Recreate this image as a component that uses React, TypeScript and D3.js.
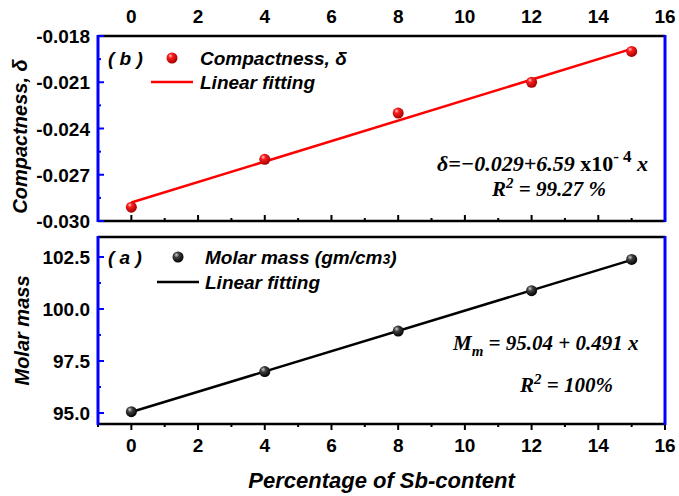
import * as d3 from 'd3';

// Sb content (%) for each sample
const sbContent = [0, 4, 8, 12, 15];
// panel (b): compactness δ
const compactness = [-0.0291, -0.026, -0.023, -0.021, -0.019];
// panel (a): molar mass
const molarMass = [95.06, 96.99, 98.94, 100.88, 102.38];

const xTicks = [0, 2, 4, 6, 8, 10, 12, 14, 16];
const xMinor = [-1, 1, 3, 5, 7, 9, 11, 13, 15];
const compTicks = [-0.03, -0.027, -0.024, -0.021, -0.018];
const compMinor = [-0.0285, -0.0255, -0.0225, -0.0195];
const massTicks = [95, 97.5, 100, 102.5];
const massMinor = [96.25, 98.75, 101.25];

const W = 679;
const H = 496;
const L = 98;
const R = 665;
const top1 = 36, bot1 = 221;
const top2 = 237, bot2 = 424;

const sans = 'Arial, "Liberation Sans", sans-serif';
const serif = '"Times New Roman", "Liberation Serif", serif';
const BLUE = '#0000ff';

function linfit(xs: number[], ys: number[]) {
  const mx = d3.mean(xs)!;
  const my = d3.mean(ys)!;
  let sxy = 0, sxx = 0;
  xs.forEach((x, i) => {
    sxy += (x - mx) * (ys[i] - my);
    sxx += (x - mx) * (x - mx);
  });
  const b = sxy / sxx;
  return { a: my - b * mx, b };
}

const Sphere = ({ cx, cy, grad }: { cx: number; cy: number; grad: string }) => (
  <circle cx={cx} cy={cy} r={5.5} fill={`url(#${grad})`} />
);

export default function App() {
  const x = d3.scaleLinear().domain([-1, 16]).range([L, R]);
  const yC = d3.scaleLinear().domain([-0.03, -0.018]).range([bot1, top1]);
  const yM = d3.scaleLinear().domain([94.47, 103.46]).range([bot2, top2]);

  const fitC = linfit(sbContent, compactness);
  const fitM = linfit(sbContent, molarMass);
  const xEnds = [d3.min(sbContent)!, d3.max(sbContent)!];

  const lineC = d3.line<number>().x((d) => x(d)).y((d) => yC(fitC.a + fitC.b * d));
  const lineM = d3.line<number>().x((d) => x(d)).y((d) => yM(fitM.a + fitM.b * d));

  const fmtC = d3.format('.3f');
  const fmtM = d3.format('.1f');

  return (
    <svg width={W} height={H} style={{ position: 'absolute', left: 0, top: 0, background: '#fff' }}>
      <defs>
        <radialGradient id="gRed" cx="0.4" cy="0.35" r="0.65" fx="0.35" fy="0.3">
          <stop offset="0" stopColor="#ffd0d0" />
          <stop offset="0.3" stopColor="#ff2020" />
          <stop offset="1" stopColor="#a00000" />
        </radialGradient>
        <radialGradient id="gBlack" cx="0.4" cy="0.35" r="0.65" fx="0.35" fy="0.3">
          <stop offset="0" stopColor="#d0d0d0" />
          <stop offset="0.35" stopColor="#404040" />
          <stop offset="1" stopColor="#000" />
        </radialGradient>
      </defs>

      {/* ---------- top panel (b) ---------- */}
      <line x1={L} x2={R} y1={top1} y2={top1} stroke="#000" strokeWidth={2.5} />
      <line x1={L} x2={R} y1={bot1} y2={bot1} stroke="#000" strokeWidth={2.5} />
      {xTicks.map((t) => (
        <g key={'tb' + t}>
          <line x1={x(t)} x2={x(t)} y1={bot1} y2={bot1 - 6} stroke="#000" strokeWidth={2} />
          <text x={x(t)} y={23} textAnchor="middle" fontFamily={sans} fontWeight="bold" fontSize={19}>
            {t}
          </text>
        </g>
      ))}
      {xMinor.map((t) => (
        <line key={'mb' + t} x1={x(t)} x2={x(t)} y1={bot1} y2={bot1 - 3} stroke="#000" strokeWidth={2} />
      ))}
      {compTicks.map((t) => (
        <g key={'yc' + t}>
          <line x1={L} x2={L + 6} y1={yC(t)} y2={yC(t)} stroke={BLUE} strokeWidth={2} />
          <text x={90} y={yC(t) + 7} textAnchor="end" fontFamily={sans} fontWeight="bold" fontSize={19}>
            {fmtC(t).replace('−', '-')}
          </text>
        </g>
      ))}
      {compMinor.map((t) => (
        <line key={'mc' + t} x1={L} x2={L + 3} y1={yC(t)} y2={yC(t)} stroke={BLUE} strokeWidth={2} />
      ))}
      <line x1={L} x2={L} y1={top1 - 1} y2={bot1 + 1} stroke={BLUE} strokeWidth={3} />
      <line x1={R} x2={R} y1={top1 - 1} y2={bot1 + 1} stroke={BLUE} strokeWidth={3} />

      <path d={lineC(xEnds) ?? ''} fill="none" stroke="#ff0000" strokeWidth={2.5} />
      {sbContent.map((s, i) => (
        <Sphere key={'pc' + s} cx={x(s)} cy={yC(compactness[i])} grad="gRed" />
      ))}

      {/* legend (b) */}
      <text x={108} y={65} fontFamily={sans} fontWeight="bold" fontStyle="italic" fontSize={19}>( b )</text>
      <Sphere cx={172} cy={58} grad="gRed" />
      <text x={200} y={65} fontFamily={sans} fontWeight="bold" fontStyle="italic" fontSize={19}>
        Compactness, δ
      </text>
      <line x1={151} x2={193} y1={82} y2={82} stroke="#ff0000" strokeWidth={2.5} />
      <text x={200} y={89} fontFamily={sans} fontWeight="bold" fontStyle="italic" fontSize={19}>
        Linear fitting
      </text>

      <text x={437} y={171} fontFamily={serif} fontWeight="bold" fontStyle="italic" fontSize={22}>
        δ=−0.029+6.59 <tspan fontStyle="normal">x10</tspan>
        <tspan dy={-9} fontSize={17} fontStyle="normal">- 4</tspan>
        <tspan dy={9}> x</tspan>
      </text>
      <text x={492} y={196} fontFamily={serif} fontWeight="bold" fontStyle="italic" fontSize={21}>
        R<tspan dy={-8} fontSize={15}>2</tspan>
        <tspan dy={8}> = 99.27 %</tspan>
      </text>

      {/* ---------- bottom panel (a) ---------- */}
      <line x1={L} x2={R} y1={top2} y2={top2} stroke="#000" strokeWidth={2.5} />
      <line x1={L} x2={R} y1={bot2} y2={bot2} stroke="#000" strokeWidth={2.5} />
      {xTicks.map((t) => (
        <g key={'ta' + t}>
          <line x1={x(t)} x2={x(t)} y1={bot2} y2={bot2 + 6} stroke="#000" strokeWidth={2} />
          <text x={x(t)} y={452} textAnchor="middle" fontFamily={sans} fontWeight="bold" fontSize={19}>
            {t}
          </text>
        </g>
      ))}
      {xMinor.map((t) => (
        <line key={'ma' + t} x1={x(t)} x2={x(t)} y1={bot2} y2={bot2 + 3} stroke="#000" strokeWidth={2} />
      ))}
      {massTicks.map((t) => (
        <g key={'ym' + t}>
          <line x1={L} x2={L + 6} y1={yM(t)} y2={yM(t)} stroke={BLUE} strokeWidth={2} />
          <text x={90} y={yM(t) + 7} textAnchor="end" fontFamily={sans} fontWeight="bold" fontSize={19}>
            {fmtM(t)}
          </text>
        </g>
      ))}
      {massMinor.map((t) => (
        <line key={'mm' + t} x1={L} x2={L + 3} y1={yM(t)} y2={yM(t)} stroke={BLUE} strokeWidth={2} />
      ))}
      <line x1={L} x2={L} y1={top2 - 1} y2={bot2 + 1} stroke={BLUE} strokeWidth={3} />
      <line x1={R} x2={R} y1={top2 - 1} y2={bot2 + 1} stroke={BLUE} strokeWidth={3} />

      <path d={lineM(xEnds) ?? ''} fill="none" stroke="#000" strokeWidth={2.5} />
      {sbContent.map((s, i) => (
        <Sphere key={'pm' + s} cx={x(s)} cy={yM(molarMass[i])} grad="gBlack" />
      ))}

      {/* legend (a) */}
      <text x={108} y={264} fontFamily={sans} fontWeight="bold" fontStyle="italic" fontSize={19}>( a )</text>
      <Sphere cx={178} cy={257} grad="gBlack" />
      <text x={205} y={264} fontFamily={sans} fontWeight="bold" fontStyle="italic" fontSize={19}>
        Molar mass (gm/cm<tspan fontSize={14}>3</tspan>)
      </text>
      <line x1={157} x2={199} y1={282} y2={282} stroke="#000" strokeWidth={2.5} />
      <text x={205} y={289} fontFamily={sans} fontWeight="bold" fontStyle="italic" fontSize={19}>
        Linear fitting
      </text>

      <text x={453} y={350} fontFamily={serif} fontWeight="bold" fontStyle="italic" fontSize={21}>
        M<tspan dy={6} fontSize={15}>m</tspan>
        <tspan dy={-6}> = 95.04 + 0.491 x</tspan>
      </text>
      <text x={520} y={392} fontFamily={serif} fontWeight="bold" fontStyle="italic" fontSize={21}>
        R<tspan dy={-8} fontSize={15}>2</tspan>
        <tspan dy={8}> = 100%</tspan>
      </text>

      {/* axis titles */}
      <text
        transform={`translate(27, ${(top1 + bot1) / 2 + 8}) rotate(-90)`}
        textAnchor="middle"
        fontFamily={sans}
        fontWeight="bold"
        fontStyle="italic"
        fontSize={20}
      >
        Compactness, δ
      </text>
      <text
        transform={`translate(29, ${(top2 + bot2) / 2}) rotate(-90)`}
        textAnchor="middle"
        fontFamily={sans}
        fontWeight="bold"
        fontStyle="italic"
        fontSize={20}
      >
        Molar mass
      </text>
      <text x={(L + R) / 2} y={488} textAnchor="middle" fontFamily={sans} fontWeight="bold" fontStyle="italic" fontSize={22}>
        Percentage of Sb-content
      </text>
    </svg>
  );
}
